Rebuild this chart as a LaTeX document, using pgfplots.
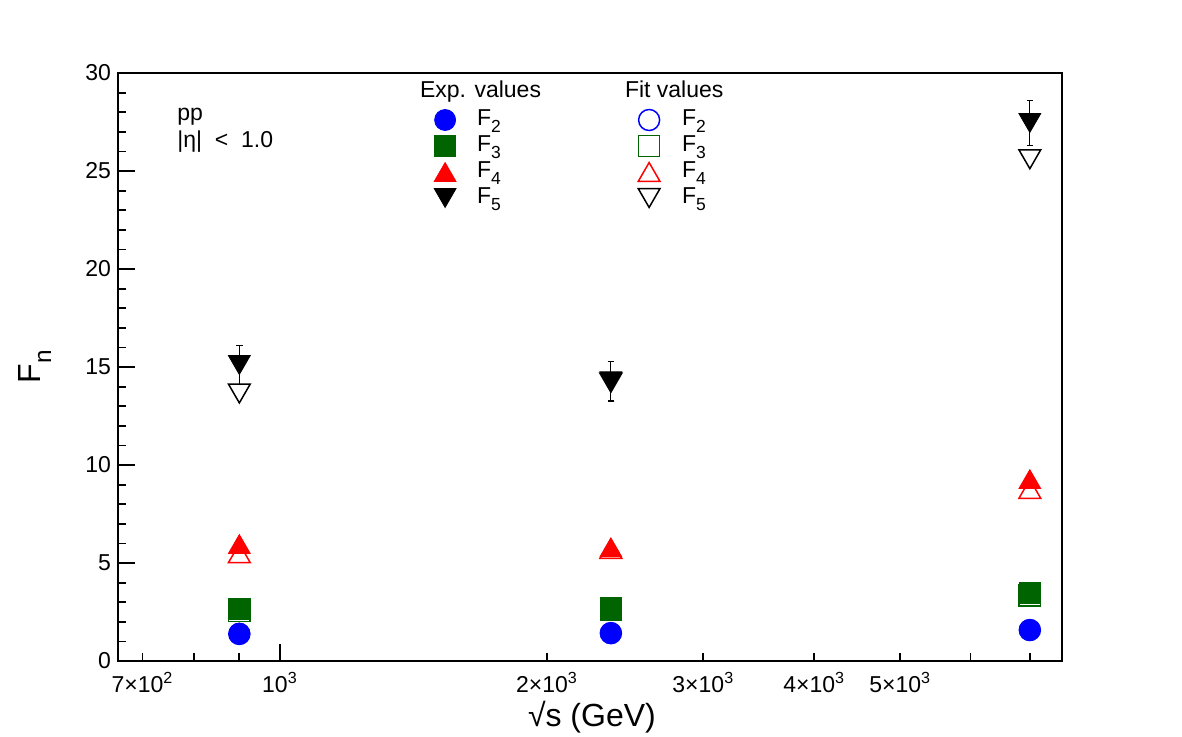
\documentclass[border=0pt]{standalone}
\usepackage{fontspec}
\setmainfont{Liberation Sans}
\usepackage{graphicx}
\usepackage{pgfplots}
\pgfplotsset{compat=1.18}
\definecolor{dgreen}{RGB}{0,100,0}
\newcommand\sub[1]{\raisebox{-0.6ex}{\scalebox{0.76}{#1}}}
\begin{document}
\begin{tikzpicture}
\useasboundingbox (-59pt,-37.5pt) rectangle (532pt,330.5pt);
% ---------- fit values (drawn first, below) ----------
\begin{axis}[at={(0pt,0pt)}, anchor=south west,
    scale only axis, width=472pt, height=294pt,
    xmode=log, xmin=657, xmax=7610, ymin=0, ymax=30,
    hide axis,
    legend cell align=left,
    legend style={draw=none, fill=none, anchor=north west, inner sep=0pt, outer sep=0pt,
      row sep=0pt, font=\fontsize{11.5}{13}\selectfont,
      nodes={inner sep=0pt, text height=9pt, text depth=4pt},
      at={(axis description cs:0.5445,0.9864)}, column sep=11pt}]
  \addlegendimage{empty legend}
  \addlegendentry{\hspace*{-28.5pt}\raisebox{1pt}{Fit values}}
  \addplot[only marks, blue, mark=o, mark size=5.25pt, line width=0.75pt]
    coordinates {(900,1.38) (2360,1.42) (7000,1.58)};
  \addlegendentry{F\sub{2}}
  \addplot[only marks, dgreen, mark=square, mark size=5.3pt, line width=0.75pt]
    coordinates {(900,2.55) (2360,2.62) (7000,3.35)};
  \addlegendentry{F\sub{3}}
  \addplot[only marks, red, mark=triangle, mark size=6.3pt, line width=0.75pt, mark options={yshift=-1.575pt}]
    coordinates {(900,5.5) (2360,5.72) (7000,8.78)};
  \addlegendentry{F\sub{4}}
  \addplot[only marks, black, mark=triangle, mark size=6.3pt, line width=0.75pt, mark options={yshift=1.575pt, rotate=180}]
    coordinates {(900,13.65) (2360,14.2) (7000,25.6)};
  \addlegendentry{F\sub{5}}
\end{axis}
% ---------- experimental values + frame ----------
\begin{axis}[at={(0pt,0pt)}, anchor=south west,
  scale only axis, width=472pt, height=294pt,
  xmode=log, xmin=657, xmax=7610, ymin=0, ymax=30,
  axis line style={line width=0.9pt},
  every tick/.style={line width=0.9pt, black},
  tick align=inside, tick pos=left,
  major tick length=8.5pt, minor tick length=4pt,
  xtick={1000},
  xticklabels={10\textsuperscript{3}},
  extra x ticks={700,2000,3000,4000,5000},
  extra x tick labels={7×10\textsuperscript{2}, 2×10\textsuperscript{3}, 3×10\textsuperscript{3}, 4×10\textsuperscript{3}, 5×10\textsuperscript{3}},
  extra x tick style={major tick length=4pt},
  minor xtick={800,900,6000,7000},
  ytick={0,5,...,30}, minor y tick num=4,
  ticklabel style={font=\fontsize{11.5}{13}\selectfont},
  yticklabel style={/pgf/number format/assume math mode=true},
  xticklabel style={yshift=-2pt},
  xlabel={√s (GeV)}, ylabel={F\sub{n}},
  label style={font=\fontsize{16}{18}\selectfont},
  xlabel style={at={(axis description cs:0.502,-0.095)}, anchor=center},
  ylabel style={at={(axis description cs:-0.088,0.5)}, anchor=center},
  legend cell align=left,
  legend style={draw=none, fill=none, anchor=north west, inner sep=0pt, outer sep=0pt,
      row sep=0pt, font=\fontsize{11.5}{13}\selectfont,
      nodes={inner sep=0pt, text height=9pt, text depth=4pt},
      at={(axis description cs:0.3284,0.9864)}, column sep=10.5pt}]
  \addlegendimage{empty legend}
  \addlegendentry{\hspace*{-28.5pt}\raisebox{1pt}{Exp. values}}
  \addplot[only marks, blue, mark=*, mark size=5.25pt]
    coordinates {(900,1.40) (2360,1.43) (7000,1.58)};
  \addlegendentry{F\sub{2}}
  \addplot[only marks, dgreen, mark=square*, mark size=5.3pt]
    coordinates {(900,2.65) (2360,2.68) (7000,3.47)};
  \addlegendentry{F\sub{3}}
  \addplot[only marks, red, mark=triangle*, mark size=6.3pt, mark options={yshift=-1.575pt}]
    coordinates {(900,5.97) (2360,5.8) (7000,9.28)};
  \addlegendentry{F\sub{4}}
  \addplot[only marks, black, mark=triangle*, mark size=6.3pt, mark options={yshift=1.575pt, rotate=180},
    error bars/.cd, y dir=both, y explicit,
    error bar style={line width=0.6pt},
    error mark options={mark size=1.6pt, line width=0.6pt, rotate=90}]
    coordinates {(900,15.1) +- (0,1.0) (2360,14.27) +- (0,1.0) (7000,27.45) +- (0,1.15)};
  \addlegendentry{F\sub{5}}
  \node[anchor=base west, inner sep=0pt, font=\fontsize{11.5}{13}\selectfont] at (axis description cs:0.0625,0.920) {pp};
  \node[anchor=base west, inner sep=0pt, font=\fontsize{11.5}{13}\selectfont] at (axis description cs:0.0625,0.874) {|η|\hspace{3.2pt} < \hspace{3.2pt}1.0};
\end{axis}
\end{tikzpicture}
\end{document}
